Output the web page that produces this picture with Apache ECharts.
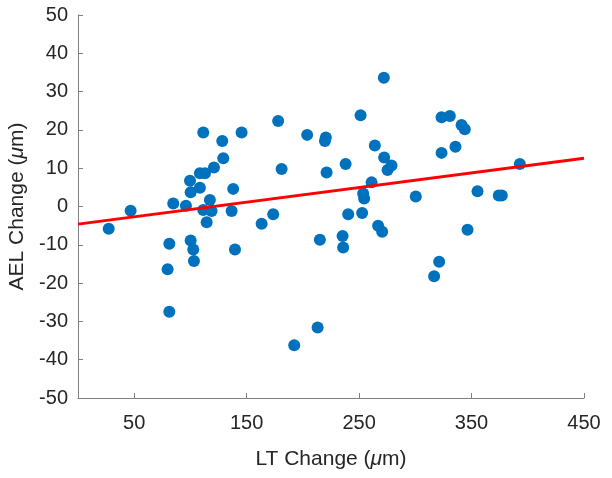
<!DOCTYPE html>
<html><head><meta charset="utf-8">
<script src="https://cdn.jsdelivr.net/npm/echarts@6/dist/echarts.min.js"></script>
<style>html,body{margin:0;padding:0;background:#fff}#c{width:612px;height:478px}</style>
</head><body><div id="c"></div>
<script>
const ltChange = [27.3,46.8,81.2,79.7,81.2,84.7,96,99.6,100.2,100.2,102.5,103.1,108.4,108.4,112.9,111.4,111.4,114.4,117.3,118.8,120.9,128.3,129.2,136.6,138,139.6,145.5,163.3,173.6,178,181.1,192.3,203.8,213.1,215.1,220.4,219.6,221.1,235.3,235.8,238,240.3,251.3,252.7,253.6,254.5,261.1,264,266.9,270.5,272,272.3,275.3,278.8,300.4,316.7,321.2,323.3,330.7,341.1,344,323.3,335.7,346.4,355.3,374.2,376.9,392.9];
const aelChange = [-5.8,-1.1,-9.7,-16.4,-27.5,0.8,0.2,6.7,3.7,-8.9,-11.2,-14.2,4.9,8.7,8.7,19.3,-0.9,-4.1,1.7,-1.2,10.2,17.1,12.6,-1.2,4.6,-11.2,19.3,-4.5,-2,22.3,9.8,-36.2,18.7,-31.6,-8.7,18,17.1,8.9,-7.7,-10.7,11.1,-2,23.8,-1.7,3.4,2.1,6.3,15.9,-5,-6.6,33.6,12.8,9.5,10.7,2.6,-18.2,-14.4,23.3,23.6,21.3,20.2,14,15.6,-6.1,4,2.9,2.9,11.1];
const fitX = [0, 450];
const fitY = [-4.6, 12.6];
const xTicks = [50, 150, 250, 350, 450];
const yTicks = [-50,-40,-30,-20,-10,0,10,20,30,40,50];

const chart = echarts.init(document.getElementById('c'), null, {renderer:'canvas'});
const font = 'Liberation Sans, Arial, sans-serif';
const axisCol = '#808080';
const txtCol = '#262626';
chart.setOption({
  animation:false,
  backgroundColor:'#fff',
  grid:{left:78,right:28,top:15,bottom:80,containLabel:false,outerBoundsMode:'none'},
  xAxis:{
    type:'value', min:0, max:450,
    name:'LT Change ({i|μ}m)', nameLocation:'middle', nameGap:51,
    nameTextStyle:{fontFamily:font,fontSize:21,color:txtCol,rich:{i:{fontFamily:font,fontSize:21,fontStyle:'italic',color:txtCol}}},
    axisLine:{show:true,onZero:false,lineStyle:{color:axisCol,width:1}},
    axisTick:{show:true,inside:true,length:5,customValues:xTicks,lineStyle:{color:axisCol}},
    axisLabel:{customValues:xTicks,fontFamily:font,fontSize:20,color:txtCol,margin:15},
    splitLine:{show:false}
  },
  yAxis:{
    type:'value', min:-50, max:50, interval:10,
    name:'AEL Change ({i|μ}m)', nameLocation:'middle', nameGap:50, nameRotate:90,
    nameTextStyle:{fontFamily:font,fontSize:21,color:txtCol,rich:{i:{fontFamily:font,fontSize:21,fontStyle:'italic',color:txtCol}}},
    axisLine:{show:true,onZero:false,lineStyle:{color:axisCol,width:1}},
    axisTick:{show:true,inside:true,length:5,lineStyle:{color:axisCol}},
    axisLabel:{customValues:yTicks,fontFamily:font,fontSize:20,color:txtCol,margin:10},
    splitLine:{show:false}
  },
  series:[
    {type:'scatter', data:ltChange.map((x,i)=>[x,aelChange[i]]), symbolSize:12,
     itemStyle:{color:'#0072BD',opacity:1}, z:2},
    {type:'line', data:fitX.map((x,i)=>[x,fitY[i]]), symbol:'none',
     lineStyle:{color:'#FF0000',width:3}, z:3}
  ]
});
</script></body></html>
